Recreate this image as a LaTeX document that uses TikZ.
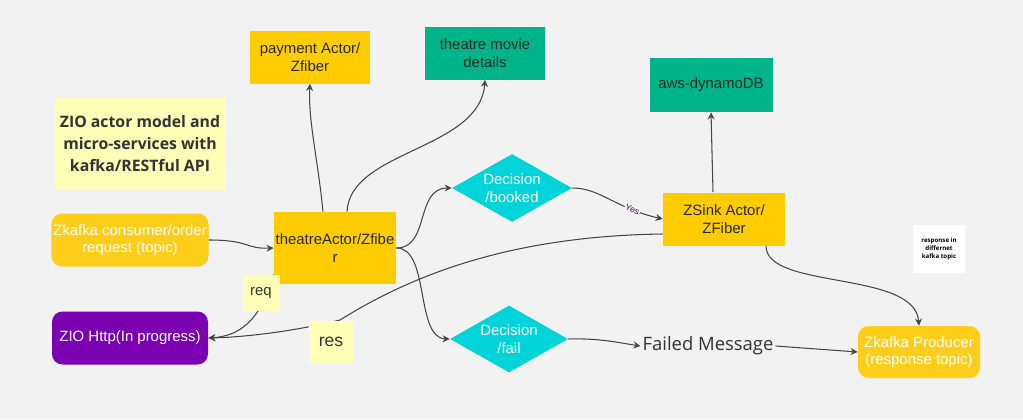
\documentclass[tikz,border=0pt]{standalone}
\usepackage{fontspec}
\setmainfont{Liberation Sans}
\newfontfamily\notefont{Open Sans}
\usetikzlibrary{shapes.geometric,arrows.meta}
\definecolor{actorYellow}{RGB}{255,204,0}
\definecolor{kafkaYellow}{RGB}{255,206,26}
\definecolor{dbGreen}{RGB}{0,180,138}
\definecolor{zioPurple}{RGB}{122,0,176}
\definecolor{decisionCyan}{RGB}{0,212,216}
\definecolor{noteYellow}{RGB}{255,255,184}
\definecolor{linkGray}{RGB}{70,70,70}
\tikzset{
  box/.style={draw=none, align=center, inner sep=1pt, font=\fontsize{8.5}{10}\selectfont},
  actor/.style={box, fill=actorYellow, text=black!85},
  store/.style={box, fill=dbGreen, text=black!85},
  service/.style={box, rounded corners=6pt, text=white},
  decision/.style={box, diamond, aspect=1.76, fill=decisionCyan, text=white, inner sep=0pt},
  sticky/.style={box, fill=noteYellow, text=black!80},
  link/.style={draw=linkGray, line width=0.6pt, -{Stealth[length=4pt,width=4pt]}}
}
\begin{document}
\begin{tikzpicture}[x=0.02cm, y=-0.02cm]
  \fill [gray!10] (0,0) rectangle (1023,419) ;
  \useasboundingbox (0,0) rectangle (1023,419) ;
  % boxes
  \node [actor, minimum width=120*0.02cm, minimum height=53*0.02cm] (payment) at (310,57) {payment Actor/\\Zfiber} ;
  \node [store, minimum width=120*0.02cm, minimum height=53*0.02cm] (details) at (485,53) {theatre movie\\details} ;
  \node [store, minimum width=123*0.02cm, minimum height=54*0.02cm] (dynamo) at (711,85) {aws-dynamoDB} ;
  \node [sticky, minimum width=171*0.02cm, minimum height=92*0.02cm, font=\notefont\bfseries\fontsize{9}{12.5}\selectfont] (title) at (140,144) {ZIO actor model and\\micro-services with\\kafka/RESTful API} ;
  \node [service, fill=kafkaYellow, minimum width=156*0.02cm, minimum height=53*0.02cm] (consumer) at (130,240) {Zkafka consumer/order\\request (topic)} ;
  \node [actor, minimum width=120*0.02cm, minimum height=72*0.02cm] (theatre) at (335,248) {theatreActor/Zfibe\\r} ;
  \node [service, fill=zioPurple, minimum width=156*0.02cm, minimum height=53*0.02cm] (http) at (130,338) {ZIO Http(In progress)} ;
  \node [decision, minimum width=120*0.02cm, minimum height=68*0.02cm] (booked) at (512,188) {Decision\\/booked} ;
  \node [decision, minimum width=118*0.02cm, minimum height=67*0.02cm] (fail) at (509,339) {Decision\\/fail} ;
  \node [actor, minimum width=122*0.02cm, minimum height=53*0.02cm] (zsink) at (724,219) {ZSink Actor/\\ZFiber} ;
  \node [service, fill=kafkaYellow, minimum width=122*0.02cm, minimum height=52*0.02cm] (producer) at (919,352) {Zkafka Producer\\(response topic)} ;
  \node [box, font=\notefont\fontsize{10.5}{12}\selectfont, text=black!80] (failed) at (708,346) {Failed Message} ;
  % connectors
  \draw [link] (consumer.east) .. controls (250,240) and (245,249) .. (theatre.west) ;
  \draw [link, {Stealth[length=4pt,width=4pt]}-{Stealth[length=4pt,width=4pt]}] (http.east) .. controls (240,336) and (260,320) .. (theatre.203) ;
  \draw [link] (zsink.west |- 0,234) .. controls (520,236) and (420,270) .. (340,320) .. controls (300,330) and (250,337) .. (http.east) ;
  \draw [link] (theatre.north -| 323,0) .. controls (318,160) and (308,120) .. (payment.south) ;
  \draw [link] (theatre.north -| 347,0) .. controls (350,150) and (480,150) .. (details.south) ;
  \draw [link] (theatre.east) .. controls (430,248) and (415,188) .. (booked.west) ;
  \draw [link] (theatre.east) .. controls (430,248) and (415,338) .. (fail.west) ;
  \draw [link] (booked.east) .. controls (600,188) and (615,208) .. node [pos=0.75, sloped, font=\fontsize{5}{5}\selectfont, text=violet!70!black, fill=gray!10, inner sep=0.5pt] (yes) {Yes} (zsink.west |- 0,219) ;
  \draw [link] (zsink.north -| 713,0) -- (dynamo.south) ;
  \draw [link] (zsink.south -| 766,0) .. controls (766,290) and (915,270) .. (producer.north) ;
  \draw [link] (fail.east) .. controls (600,338) and (620,343) .. (failed.west) ;
  \draw [link] (failed.east) -- (producer.west) ;
  % sticky notes drawn over the lines
  \node [sticky, minimum width=37*0.02cm, minimum height=36*0.02cm] (req) at (261,293) {req} ;
  \node [sticky, minimum width=44*0.02cm, minimum height=43*0.02cm, font=\fontsize{10}{12}\selectfont] (res) at (331,342) {res} ;
  \node [box, fill=white, minimum width=52*0.02cm, minimum height=48*0.02cm, font=\notefont\bfseries\fontsize{3.5}{4.5}\selectfont] (note) at (939,249) {response in\\differnet\\kafka topic} ;
\end{tikzpicture}
\end{document}
